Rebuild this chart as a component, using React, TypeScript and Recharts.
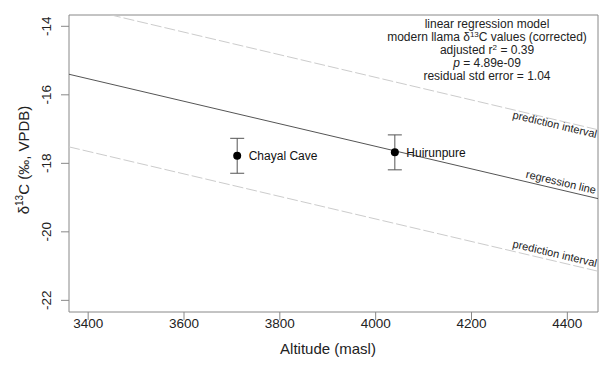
import { ComposedChart, Line, Scatter, XAxis, YAxis, ErrorBar, LabelList, ReferenceArea } from 'recharts';

// fitted lines, read at the left and right edge of the plot
const lineAltitudes = [3360, 4464];
const regressionValues = [-15.4, -19.03];
const upperPrediction = [-13.38, -17.02];
const lowerPrediction = [-17.52, -21.15];

// archaeological sites
const siteNames = ['Chayal Cave', 'Huirunpure'];
const siteAltitudes = [3711, 4040];
const siteD13C = [-17.78, -17.68];
const siteErrors = [0.51, 0.51];

const xTicks = [3400, 3600, 3800, 4000, 4200, 4400];
const yTicks = [-22, -20, -18, -16, -14];
const xDomain = [3360, 4464];
const yDomain = [-22.34, -13.67];

const annotation = [
  'linear regression model',
  'modern llama δ13C values (corrected)',
  'adjusted r² = 0.39',
  'p = 4.89e-09',
  'residual std error = 1.04',
];

const lineRows = lineAltitudes.map((alt, i) => ({
  alt,
  regression: regressionValues[i],
  upper: upperPrediction[i],
  lower: lowerPrediction[i],
}));

const siteRows = siteNames.map((name, i) => ({
  name,
  alt: siteAltitudes[i],
  d13c: siteD13C[i],
  err: siteErrors[i],
}));

const FONT = '"Liberation Sans", Arial, Helvetica, sans-serif';
const ANGLE = 13.3;

const XTick = ({ x, payload }: any) => (
  <text x={x} y={327.5} textAnchor="middle" fontSize={13.5} fill="#222" fontFamily={FONT}>
    {payload.value}
  </text>
);

const YTick = ({ y, payload }: any) => (
  <text transform={`translate(51,${y}) rotate(-90)`} textAnchor="middle" fontSize={13.5} fill="#222" fontFamily={FONT}>
    {payload.value}
  </text>
);

const lineLabel = (text: string, x: number, y: number) => (
  <text transform={`translate(${x},${y}) rotate(${ANGLE})`} textAnchor="end" fontSize={11} fill="#222" fontFamily={FONT}>
    {text}
  </text>
);

export default function App() {
  return (
    <div style={{ position: 'absolute', left: 0, top: 0, width: 599, height: 365, background: '#fff' }}>
      <ComposedChart width={599} height={365} data={lineRows} margin={{ top: 15, right: 1, left: 0, bottom: 0 }}>
        <XAxis
          dataKey="alt"
          type="number"
          domain={xDomain}
          ticks={xTicks}
          allowDataOverflow
          axisLine={false}
          tickSize={8}
          stroke="#888"
          height={53}
          tick={<XTick />}
        />
        <YAxis
          type="number"
          domain={yDomain}
          ticks={yTicks}
          allowDataOverflow
          axisLine={false}
          tickSize={8}
          stroke="#888"
          width={69}
          tick={<YTick />}
        />
        <ReferenceArea x1={xDomain[0]} x2={xDomain[1]} y1={yDomain[0]} y2={yDomain[1]} fill="none" stroke="#888" strokeOpacity={1} fillOpacity={0} ifOverflow="visible" />
        <Line dataKey="upper" stroke="#cccccc" strokeWidth={1} strokeDasharray="11 3" dot={false} isAnimationActive={false} />
        <Line dataKey="lower" stroke="#cccccc" strokeWidth={1} strokeDasharray="11 3" dot={false} isAnimationActive={false} />
        <Line dataKey="regression" stroke="#555" strokeWidth={1} dot={false} isAnimationActive={false} />
        <Scatter data={siteRows} dataKey="d13c" fill="#000" shape={(p: any) => <circle cx={p.cx} cy={p.cy} r={4} fill="#000" />} isAnimationActive={false}>
          <ErrorBar dataKey="err" direction="y" width={7} stroke="#555" strokeWidth={1} />
          <LabelList dataKey="name" position="right" offset={7} fontSize={12} fill="#111" fontFamily={FONT} />
        </Scatter>
      </ComposedChart>
      <svg width={599} height={365} style={{ position: 'absolute', left: 0, top: 0, pointerEvents: 'none' }}>
        <g fontFamily={FONT} fontSize={12} fill="#222" textAnchor="middle">
          <text x={487} y={28}>{annotation[0]}</text>
          <text x={487} y={41}>
            modern llama δ<tspan fontSize={8} dy={-4.5}>13</tspan><tspan dy={4.5}>C values (corrected)</tspan>
          </text>
          <text x={487} y={54}>
            adjusted r<tspan fontSize={8} dy={-4.5}>2</tspan><tspan dy={4.5}> = 0.39</tspan>
          </text>
          <text x={487} y={67}>
            <tspan fontStyle="italic">p</tspan> = 4.89e-09
          </text>
          <text x={487} y={80}>{annotation[4]}</text>
        </g>
        {lineLabel('prediction interval', 596, 138)}
        {lineLabel('regression line', 595, 194)}
        {lineLabel('prediction interval', 596, 267)}
        <text x={328} y={354} textAnchor="middle" fontSize={15} fill="#222" fontFamily={FONT}>
          Altitude (masl)
        </text>
        <text transform="translate(29,160) rotate(-90)" textAnchor="middle" fontSize={15} fill="#222" fontFamily={FONT}>
          δ<tspan fontSize={10} dy={-6}>13</tspan><tspan dy={6}>C (‰, VPDB)</tspan>
        </text>
      </svg>
    </div>
  );
}
